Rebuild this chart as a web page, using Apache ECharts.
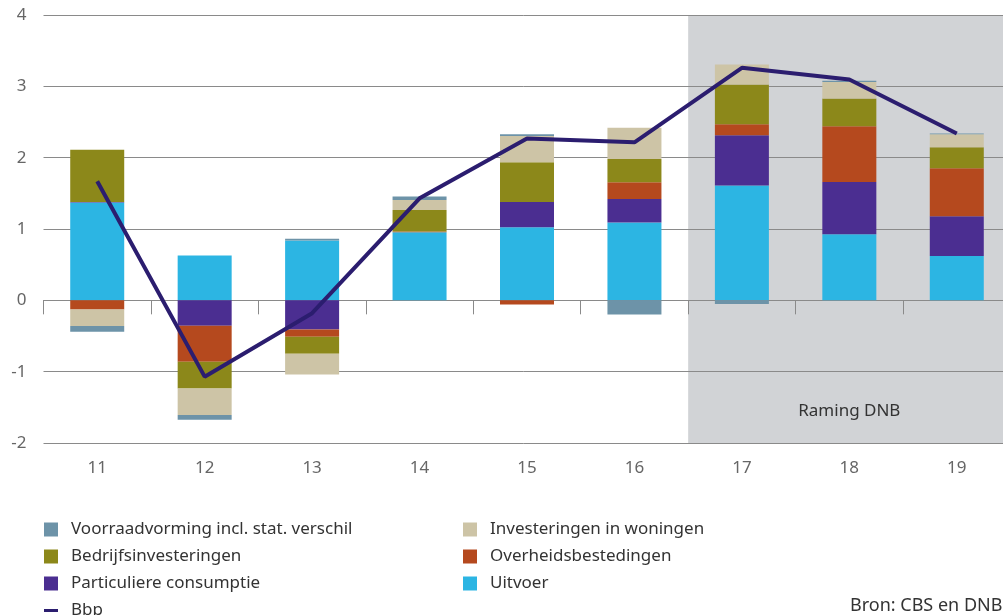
<!DOCTYPE html>
<html>
<head>
<meta charset="utf-8">
<style>
  html, body { margin: 0; padding: 0; background: #fff; }
  #chart { width: 1003px; height: 615px; }
</style>
<script src="https://cdn.jsdelivr.net/npm/echarts@6/dist/echarts.min.js"></script>
</head>
<body>
<div id="chart"></div>
<script>
var years = ['11', '12', '13', '14', '15', '16', '17', '18', '19'];

// bijdragen aan bbp-groei (procentpunten)
var uitvoer = [1.37, 0.63, 0.84, 0.955, 1.025, 1.09, 1.61, 0.925, 0.62];
var particuliere = [0.01, -0.355, -0.41, 0, 0.355, 0.33, 0.705, 0.735, 0.56];
var overheid = [-0.13, -0.505, -0.1, 0.01, -0.06, 0.235, 0.155, 0.78, 0.67];
var bedrijfs = [0.73, -0.375, -0.24, 0.3, 0.555, 0.325, 0.555, 0.39, 0.295];
var woningen = [-0.23, -0.373, -0.29, 0.14, 0.37, 0.44, 0.28, 0.23, 0.185];
var voorraad = [-0.08, -0.066, 0.025, 0.05, 0.025, -0.2, -0.05, 0.02, 0.01];
var bbp = [1.67, -1.07, -0.18, 1.43, 2.27, 2.215, 3.26, 3.095, 2.34];

var FONT = 'Noto Sans';
var SQUARE = 'path://M0,0h14v14h-14z M22,0';
var DASH = 'path://M0,5.5h14v3h-14z M0,0 M22,14';

function barSeries(name, color, data) {
  return {
    type: 'bar',
    name: name,
    stack: 'bijdrage',
    barWidth: 54,
    z: 3,
    itemStyle: { color: color },
    data: data,
  };
}

function legendBlock(left, items) {
  return {
    orient: 'vertical',
    left: left,
    top: 521,
    height: 110,
    padding: 0,
    itemWidth: 22,
    itemHeight: 14,
    itemGap: 10,
    selectedMode: false,
    textStyle: { color: '#333', fontSize: 17, fontFamily: FONT },
    data: items,
  };
}

var chart = echarts.init(document.getElementById('chart'));

var option = {
  animation: false,
  textStyle: { fontFamily: FONT },
  grid: {
    top: 15,
    left: 43.5,
    width: 967,
    bottom: 172,
    outerBoundsMode: 'none',
  },
  legend: [
    legendBlock(44, [
      { name: 'Voorraadvorming incl. stat. verschil', icon: SQUARE },
      { name: 'Bedrijfsinvesteringen', icon: SQUARE },
      { name: 'Particuliere consumptie', icon: SQUARE },
      { name: 'Bbp', icon: DASH },
    ]),
    legendBlock(463, [
      { name: 'Investeringen in woningen', icon: SQUARE },
      { name: 'Overheidsbestedingen', icon: SQUARE },
      { name: 'Uitvoer', icon: SQUARE },
    ]),
  ],
  graphic: [
    {
      type: 'text',
      left: 850,
      top: 597,
      style: {
        text: 'Bron: CBS en DNB',
        fill: '#333',
        fontSize: 18,
        fontFamily: FONT,
      },
    },
  ],
  xAxis: [
    {
      type: 'category',
      data: years,
      position: 'bottom',
      z: 2,
      axisLine: { onZero: true, lineStyle: { color: '#8a8a8a', width: 1 } },
      axisTick: { show: true, length: 14, interval: 0, lineStyle: { color: '#8a8a8a' } },
      axisLabel: { show: false },
      splitLine: { show: false },
    },
    {
      type: 'category',
      data: years,
      position: 'bottom',
      axisLine: { show: false, onZero: false },
      axisTick: { show: false },
      axisLabel: { margin: 17, color: '#666', fontSize: 17, fontFamily: FONT },
      splitLine: { show: false },
    },
    {
      type: 'value',
      min: 0,
      max: 9,
      show: false,
    },
  ],
  yAxis: {
    type: 'value',
    min: -2,
    max: 4,
    interval: 1,
    z: 2,
    axisLine: { show: false },
    axisTick: { show: false },
    axisLabel: { margin: 17, color: '#666', fontSize: 17, fontFamily: FONT },
    splitLine: { lineStyle: { color: '#8a8a8a', width: 1 } },
  },
  series: [
    barSeries('Uitvoer', '#2cb5e3', uitvoer),
    barSeries('Particuliere consumptie', '#4b2e91', particuliere),
    barSeries('Overheidsbestedingen', '#b5491e', overheid),
    barSeries('Bedrijfsinvesteringen', '#8c881a', bedrijfs),
    barSeries('Investeringen in woningen', '#cdc4a6', woningen),
    barSeries('Voorraadvorming incl. stat. verschil', '#6d93a8', voorraad),
    {
      type: 'line',
      name: 'Bbp',
      z: 4,
      symbol: 'none',
      color: '#2b1d6f',
      itemStyle: { color: '#2b1d6f' },
      lineStyle: { color: '#2b1d6f', width: 4 },
      data: bbp,
    },
    {
      // raming-periode als grijze achtergrond
      type: 'line',
      name: 'raming',
      xAxisIndex: 2,
      z: 1,
      data: [],
      markArea: {
        silent: true,
        itemStyle: { color: '#d1d3d6' },
        label: {
          show: true,
          position: 'insideBottom',
          distance: 23,
          color: '#333',
          fontSize: 17,
          fontFamily: FONT,
        },
        data: [[
          { name: 'Raming DNB', xAxis: 6, yAxis: 4 },
          { xAxis: 9, yAxis: -2 },
        ]],
      },
    },
  ],
};

chart.setOption(option);
</script>
</body>
</html>
